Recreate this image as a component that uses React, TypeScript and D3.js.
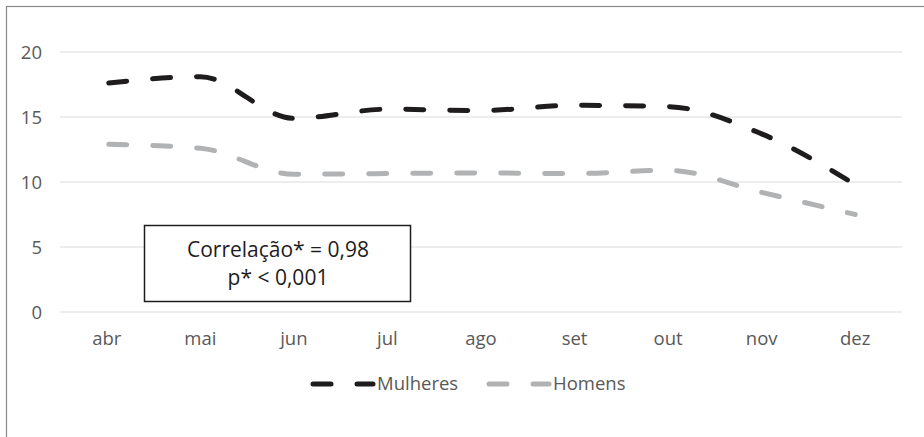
import React from "react";
import * as d3 from "d3";

const months = ["abr", "mai", "jun", "jul", "ago", "set", "out", "nov", "dez"];
const mulheres = [17.6, 18.1, 14.9, 15.6, 15.5, 15.9, 15.8, 13.7, 9.8];
const homens = [12.9, 12.6, 10.6, 10.65, 10.7, 10.65, 10.9, 9.2, 7.5];
const yTicks = [0, 5, 10, 15, 20];
const seriesNames = ["Mulheres", "Homens"];
const seriesColors = ["#1e1c1d", "#b1b2b4"];

const W = 924;
const H = 437;
const FONT = "'Open Sans', sans-serif";

export default function App() {
  const x = d3.scaleBand<string>().domain(months).range([60, 902]);
  const y = d3.scaleLinear().domain([0, 20]).range([312, 52]);
  const line = d3
    .line<number>()
    .x((_, i) => (x(months[i]) as number) + x.bandwidth() / 2)
    .y((d) => y(d))
    .curve(d3.curveMonotoneX);
  const data = [mulheres, homens];
  const legendX = [311, 487];

  return (
    <svg width={W} height={H} style={{ position: "absolute", left: 0, top: 0 }}>
      <rect x={0} y={0} width={W} height={H} fill="#fff" />
      <rect x={6.5} y={6.5} width={W + 10} height={H + 10} fill="none" stroke="#8a8a8a" strokeWidth={1.2} />
      {yTicks.map((t) => (
        <g key={t}>
          <line x1={60} x2={902} y1={y(t)} y2={y(t)} stroke="#dcdcdc" strokeWidth={1.2} />
          <text x={42} y={y(t)} dy="0.36em" textAnchor="end" fontFamily={FONT} fontSize={18.5} fill="#595959">
            {t}
          </text>
        </g>
      ))}
      {months.map((m) => (
        <text
          key={m}
          x={(x(m) as number) + x.bandwidth() / 2}
          y={345}
          textAnchor="middle"
          fontFamily={FONT}
          fontSize={18.5}
          fill="#595959"
        >
          {m}
        </text>
      ))}
      {data.map((d, i) => (
        <path
          key={i}
          d={line(d) as string}
          fill="none"
          stroke={seriesColors[i]}
          strokeWidth={5}
          strokeLinecap="round"
          strokeDasharray="18 26"
          strokeDashoffset={-2}
        />
      ))}
      {seriesNames.map((n, i) => (
        <g key={n}>
          <line x1={legendX[i] + 2} x2={legendX[i] + 20} y1={384} y2={384} stroke={seriesColors[i]} strokeWidth={5} strokeLinecap="round" />
          <line x1={legendX[i] + 46} x2={legendX[i] + 62} y1={384} y2={384} stroke={seriesColors[i]} strokeWidth={5} strokeLinecap="round" />
          <text x={legendX[i] + 66} y={390} fontFamily={FONT} fontSize={18.5} fill="#595959">
            {n}
          </text>
        </g>
      ))}
      <rect x={144.5} y={225.5} width={266} height={76} fill="#fff" stroke="#1e1c1d" strokeWidth={1.5} />
      <text x={278} y={257} textAnchor="middle" fontFamily={FONT} fontSize={21} fill="#1e1c1d">
        Correlação* = 0,98
      </text>
      <text x={278} y={285} textAnchor="middle" fontFamily={FONT} fontSize={21} fill="#1e1c1d">
        p* &lt; 0,001
      </text>
    </svg>
  );
}
